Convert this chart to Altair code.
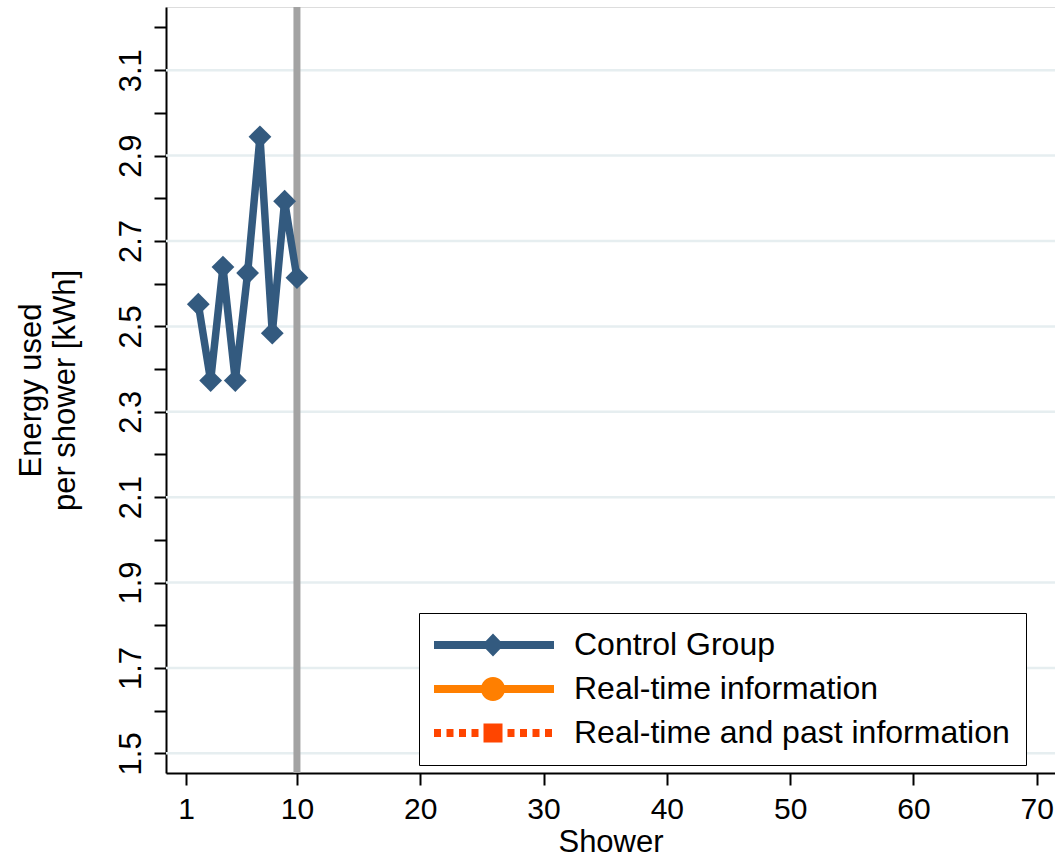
import altair as alt
import pandas as pd

# ---- data ----
shower = [2, 3, 4, 5, 6, 7, 8, 9, 10]
energy_control = [2.552, 2.373, 2.639, 2.373, 2.625, 2.944, 2.484, 2.793, 2.614]

series_names = ["Control Group", "Real-time information", "Real-time and past information"]
series_colors = ["#335a7f", "#ff7f00", "#ff4500"]

x_ticks = [1, 10, 20, 30, 40, 50, 60, 70]
y_major = [1.5, 1.7, 1.9, 2.1, 2.3, 2.5, 2.7, 2.9, 3.1]
y_ticks_all = [1.5, 1.6, 1.7, 1.8, 1.9, 2.0, 2.1, 2.2, 2.3, 2.4, 2.5, 2.6,
               2.7, 2.8, 2.9, 3.0, 3.1, 3.2]
intervention_shower = [10]

FONT = "Liberation Sans"
NAVY = series_colors[0]


# ---- legend symbol paths (line + marker), unit = 10 px ----
def rect(x0, x1, h):
    return f"M{x0},{-h}H{x1}V{h}H{x0}Z"


SH = -0.7  # horizontal shift of the drawn symbol
p_control = rect(round(-1 + SH, 2), round(11 + SH, 2), 0.4) + \
    f"M{3.8 + SH:.2f},0L{4.9 + SH:.2f},-1.15L{6 + SH:.2f},0L{4.9 + SH:.2f},1.15Z"
p_real = rect(round(-1 + SH, 2), round(11 + SH, 2), 0.4) + \
    f"M{3.7 + SH:.2f},0A1.2,1.2 0 1,1 {6.1 + SH:.2f},0A1.2,1.2 0 1,1 {3.7 + SH:.2f},0Z"
dash_starts = [-1.0, 0.25, 1.5, 2.75, 6.35, 7.6, 8.85, 10.1]
p_past = "".join(rect(round(s + SH, 2), round(s + 0.7 + SH, 2), 0.4) for s in dash_starts) + \
    f"M{3.95 + SH:.2f},-0.95H{5.85 + SH:.2f}V0.95H{3.95 + SH:.2f}Z"
legend_paths = [p_control, p_real, p_past]

df = pd.DataFrame({"shower": shower, "energy": energy_control})
grid_df = pd.DataFrame({"energy": y_major})
rule_df = pd.DataFrame({"shower": intervention_shower})
legend_df = pd.DataFrame({"series": series_names})

xscale = alt.Scale(domain=[-0.62, 71.48], nice=False, zero=False)
yscale = alt.Scale(domain=[1.454, 3.248], nice=False, zero=False)

xaxis = alt.Axis(
    values=x_ticks, title="Shower", grid=False,
    domainColor="black", domainWidth=2, tickColor="black", tickWidth=2, tickSize=12,
    labelFontSize=30, labelPadding=9, labelFlush=False, labelColor="black", labelFont=FONT,
    labelOverlap=False,
    titleFontSize=31, titleFontWeight="normal", titleColor="black", titleFont=FONT,
    titleBaseline="alphabetic", titleY=78,
)
yaxis = alt.Axis(
    values=y_ticks_all,
    labelExpr="round(datum.value*10) % 2 == 1 ? format(datum.value, '.1f') : ''",
    title=["Energy used", "per shower [kWh]"], grid=False,
    domainColor="black", domainWidth=2, tickColor="black", tickWidth=2, tickSize=12,
    labelFontSize=31, labelAngle=270, labelAlign="center", labelBaseline="alphabetic",
    labelPadding=14, labelColor="black", labelFont=FONT, labelOverlap=False, labelFlush=False,
    titleFontSize=31, titleFontWeight="normal", titleColor="black", titleFont=FONT,
    titleAngle=270, titleAlign="center", titleBaseline="alphabetic",
    titleX=-126, titleY=383, titleLineHeight=34,
)

grid = alt.Chart(grid_df).mark_rule(color="#e6eef0", strokeWidth=2.5).encode(
    y=alt.Y("energy:Q", scale=yscale, axis=yaxis)
)

vline = alt.Chart(rule_df).mark_rule(color="#a3a3a3", strokeWidth=7).encode(
    x=alt.X("shower:Q", scale=xscale, axis=xaxis)
)

line = alt.Chart(df).mark_line(color=NAVY, strokeWidth=7.5).encode(
    x=alt.X("shower:Q", scale=xscale, axis=xaxis),
    y=alt.Y("energy:Q", scale=yscale, axis=yaxis),
)

points = alt.Chart(df).mark_point(shape="diamond", filled=True, size=520,
                                  color=NAVY, opacity=1).encode(
    x=alt.X("shower:Q", scale=xscale, axis=xaxis),
    y=alt.Y("energy:Q", scale=yscale, axis=yaxis),
)

legend = alt.Legend(
    title=None, orient="none", legendX=253, legendY=606,
    padding=16, rowPadding=12, symbolSize=400, symbolStrokeWidth=0,
    labelFont=FONT, labelFontSize=32, labelColor="black", labelOffset=107,
    labelLimit=1000, strokeColor="black", fillColor="white", cornerRadius=0,
)

legend_layer = alt.Chart(legend_df).mark_point(filled=True, opacity=1).encode(
    color=alt.Color("series:N", scale=alt.Scale(domain=series_names, range=series_colors),
                    legend=legend),
    shape=alt.Shape("series:N", scale=alt.Scale(domain=series_names, range=legend_paths),
                    legend=legend),
).transform_filter("false")

chart = alt.layer(grid, vline, line, points, legend_layer).properties(
    width=889, height=766,
    padding={"left": 166, "top": 7, "right": 0, "bottom": 85},
    autosize=alt.AutoSizeParams(type="none"),
    background="white",
).configure_view(stroke=None).configure_legend(strokeWidth=2).configure(font=FONT)

chart.save("out.html", embed_options={"renderer": "svg", "actions": False})
